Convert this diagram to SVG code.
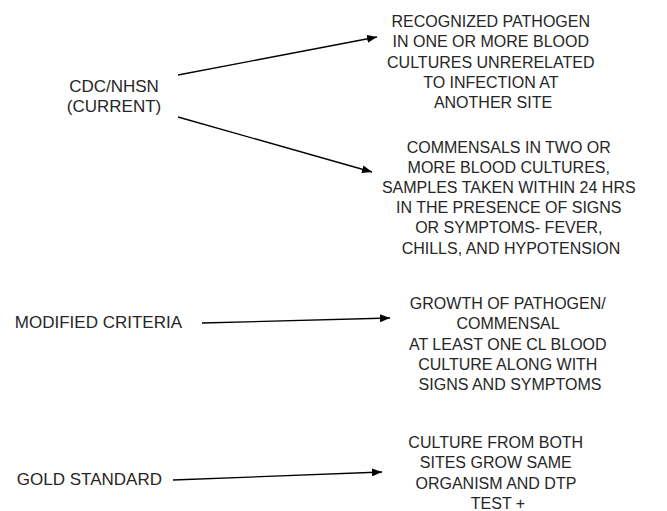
<svg xmlns="http://www.w3.org/2000/svg" width="667" height="511" viewBox="0 0 667 511">
<defs>
<marker id="ah" markerWidth="10" markerHeight="8" refX="10" refY="4" orient="auto" markerUnits="userSpaceOnUse">
<path d="M0,0 L10,4 L0,8 Z" fill="#000"/>
</marker>
<style>
text{font-family:"Liberation Sans",Arial,sans-serif;font-size:16px;fill:#262626}
.l{font-size:17px}
.c{text-anchor:middle}
.r{text-anchor:end}
.e{stroke:#000;stroke-width:1.3;fill:none;marker-end:url(#ah)}
</style>
</defs>
<rect width="667" height="511" fill="#fff"/>
<g id="connectors">
<line class="e" x1="178" y1="75" x2="377" y2="37"/>
<line class="e" x1="178" y1="117" x2="372" y2="172"/>
<line class="e" x1="202" y1="323" x2="390" y2="318"/>
<line class="e" x1="173" y1="480" x2="382" y2="472"/>
</g>
<g id="cdc"><text class="c l" x="114" y="92">CDC/NHSN</text><text class="c l" x="114" y="112">(CURRENT)</text></g>
<g id="modified"><text class="r l" x="182" y="328">MODIFIED CRITERIA</text></g>
<g id="gold"><text class="r l" x="162" y="485">GOLD STANDARD</text></g>
<g id="pathogen"><text class="c">
<tspan x="493" y="27">RECOGNIZED PATHOGEN</tspan>
<tspan x="493" y="47">IN ONE OR MORE BLOOD</tspan>
<tspan x="493" y="67.5">CULTURES UNRERELATED</tspan>
<tspan x="493" y="88">TO INFECTION AT</tspan>
<tspan x="493" y="108">ANOTHER SITE</tspan></text></g>
<g id="commensals"><text class="c">
<tspan x="511" y="153">COMMENSALS IN TWO OR</tspan>
<tspan x="511" y="173">MORE BLOOD CULTURES,</tspan>
<tspan x="511" y="193">SAMPLES TAKEN WITHIN 24 HRS</tspan>
<tspan x="511" y="213">IN THE PRESENCE OF SIGNS</tspan>
<tspan x="511" y="233">OR SYMPTOMS- FEVER,</tspan>
<tspan x="511" y="254">CHILLS, AND HYPOTENSION</tspan></text></g>
<g id="growth"><text class="c">
<tspan x="510" y="309">GROWTH OF PATHOGEN/</tspan>
<tspan x="510" y="329">COMMENSAL</tspan>
<tspan x="510" y="350">AT LEAST ONE CL BLOOD</tspan>
<tspan x="510" y="370">CULTURE ALONG WITH</tspan>
<tspan x="510" y="390">SIGNS AND SYMPTOMS</tspan></text></g>
<g id="culture"><text class="c">
<tspan x="498" y="448">CULTURE FROM BOTH</tspan>
<tspan x="498" y="468">SITES GROW SAME</tspan>
<tspan x="498" y="489">ORGANISM AND DTP</tspan>
<tspan x="498" y="509">TEST +</tspan></text></g>
</svg>
